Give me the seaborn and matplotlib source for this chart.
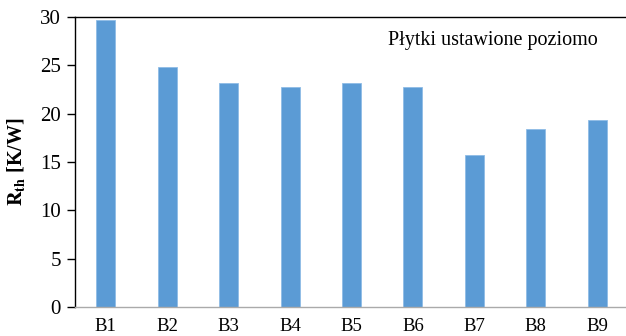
import matplotlib
matplotlib.use("Agg")
import matplotlib.pyplot as plt
import seaborn as sns
import pandas as pd

categories = ["B1", "B2", "B3", "B4", "B5", "B6", "B7", "B8", "B9"]
values = [29.7, 24.8, 23.2, 22.75, 23.2, 22.75, 15.7, 18.4, 19.35]
yticks = [0, 5, 10, 15, 20, 25, 30]

sns.set_theme(style="white")
plt.rcParams['font.family'] = ['Liberation Serif', 'DejaVu Serif']
plt.rcParams['mathtext.fontset'] = 'stix'
for k in ['text.color', 'axes.labelcolor', 'xtick.color', 'ytick.color']:
    plt.rcParams[k] = 'black'

df = pd.DataFrame({"cat": categories, "val": values})

fig = plt.figure(figsize=(6.26, 3.36), dpi=100)
ax = fig.add_axes([75/626, 1 - 307/336, 553/626, 290/336])
sns.barplot(data=df, x="cat", y="val", color="#5B9BD5", width=0.31,
            edgecolor="#8FBCE6", linewidth=0.6, saturation=1, ax=ax)
ax.set_xlim(-0.5, 8.5)
ax.set_ylim(0, 30)
ax.set_yticks(yticks)
ax.set_yticklabels([str(t) for t in yticks], fontsize=15)
ax.tick_params(axis='y', direction='out', length=6, width=1, color='black',
               labelcolor='black', left=True, pad=4)
ax.tick_params(axis='x', length=0, labelsize=13.5, labelcolor='black', pad=8)
ax.set_xlabel("")
ax.set_ylabel(r"$\mathbf{R_{th}}$ [K/W]", fontsize=14.5, fontweight='bold', color='black')
ax.yaxis.set_label_coords(-0.086, 0.5)
for s in ['left', 'top']:
    ax.spines[s].set_color('black')
    ax.spines[s].set_linewidth(1)
ax.spines['right'].set_visible(False)
ax.spines['bottom'].set_color('#AAAAAA')
ax.spines['bottom'].set_linewidth(1)
ax.text(0.946, 0.92, "Płytki ustawione poziomo", transform=ax.transAxes,
        ha='right', va='center', fontsize=14.5, color='black')
fig.savefig("out.png", dpi=100)
